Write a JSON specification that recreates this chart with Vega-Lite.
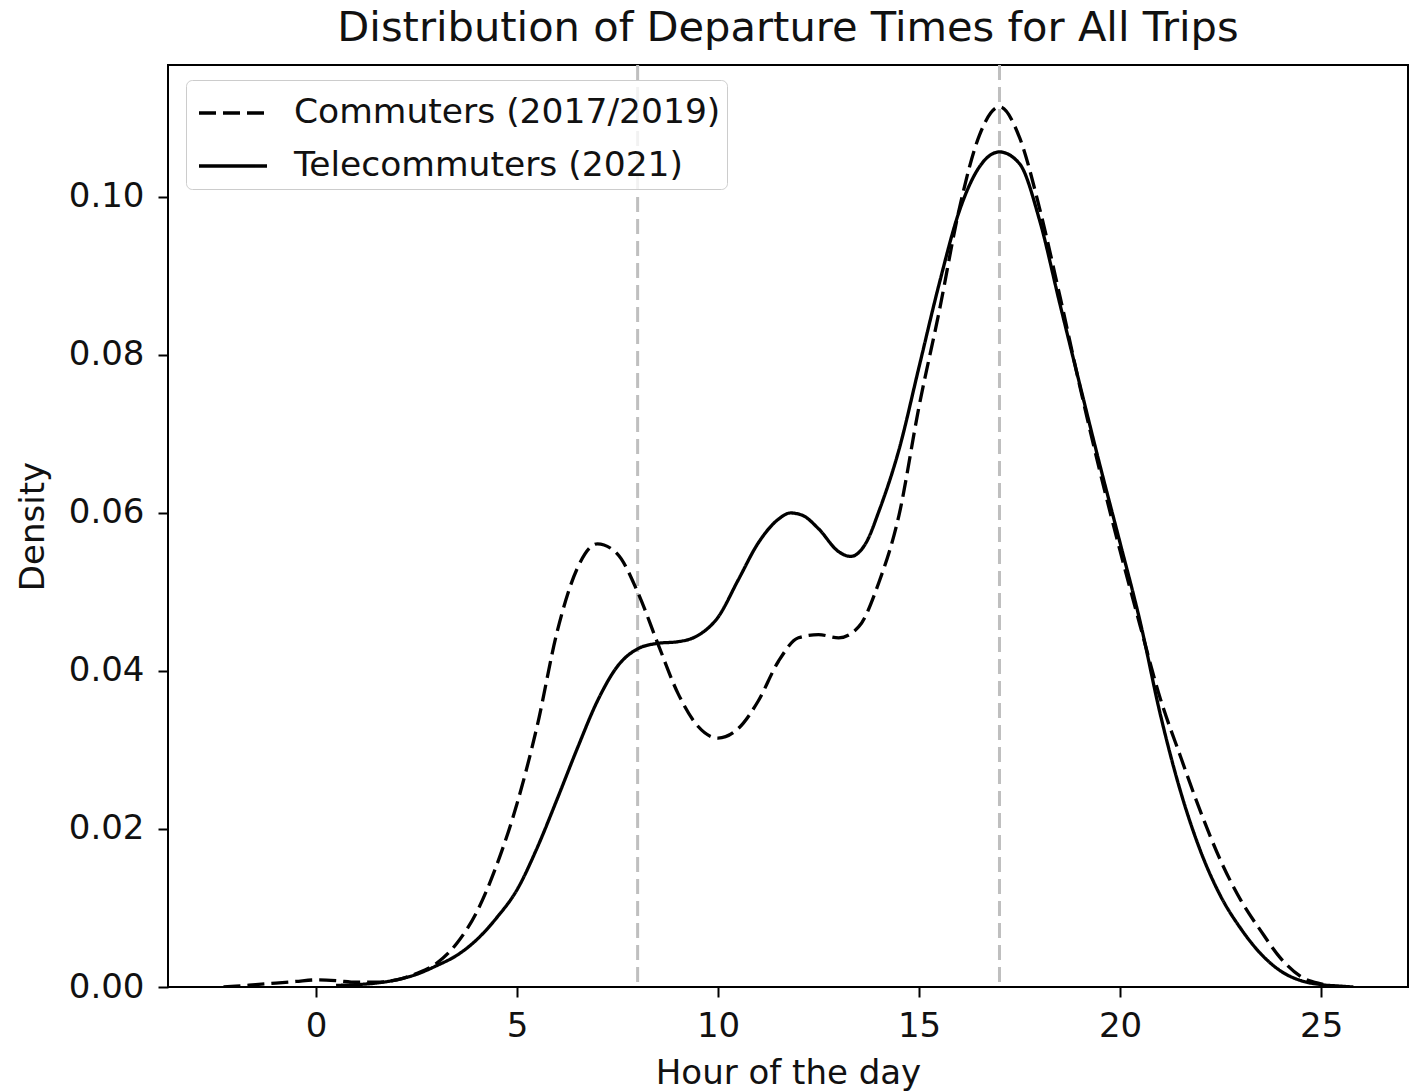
{
  "$schema": "https://vega.github.io/schema/vega-lite/v6.json",
  "width": 1240,
  "height": 922,
  "autosize": "none",
  "padding": {"left": 168, "top": 65, "right": 12, "bottom": 104},
  "background": "white",
  "config": {
    "font": "DejaVu Sans",
    "view": {"stroke": "black", "strokeWidth": 2},
    "axis": {"grid": false, "domain": false, "tickColor": "black", "tickWidth": 2, "tickSize": 10, "labelFont": "DejaVu Sans", "labelFontSize": 34, "labelColor": "#111", "titleFont": "DejaVu Sans", "titleFontSize": 34, "titleFontWeight": "normal", "titleColor": "#111"}
  },
  "title": {"text": "Distribution of Departure Times for All Trips", "fontSize": 41.6, "fontWeight": "normal", "font": "DejaVu Sans", "color": "#111", "anchor": "middle", "offset": 14},
  "datasets": {
    "kde": [
      {"series": "Commuters (2017/2019)", "hour": -2.3, "density": 0.0},
      {"series": "Commuters (2017/2019)", "hour": -2.0, "density": 0.0001},
      {"series": "Commuters (2017/2019)", "hour": -1.5, "density": 0.0003},
      {"series": "Commuters (2017/2019)", "hour": -1.0, "density": 0.0005},
      {"series": "Commuters (2017/2019)", "hour": -0.5, "density": 0.0007},
      {"series": "Commuters (2017/2019)", "hour": 0.0, "density": 0.0009},
      {"series": "Commuters (2017/2019)", "hour": 0.5, "density": 0.0008},
      {"series": "Commuters (2017/2019)", "hour": 1.0, "density": 0.0006},
      {"series": "Commuters (2017/2019)", "hour": 1.5, "density": 0.0006},
      {"series": "Commuters (2017/2019)", "hour": 2.0, "density": 0.0009},
      {"series": "Commuters (2017/2019)", "hour": 2.5, "density": 0.0017},
      {"series": "Commuters (2017/2019)", "hour": 3.0, "density": 0.0030},
      {"series": "Commuters (2017/2019)", "hour": 3.5, "density": 0.0055},
      {"series": "Commuters (2017/2019)", "hour": 4.0, "density": 0.0095},
      {"series": "Commuters (2017/2019)", "hour": 4.5, "density": 0.0155},
      {"series": "Commuters (2017/2019)", "hour": 5.0, "density": 0.0232},
      {"series": "Commuters (2017/2019)", "hour": 5.5, "density": 0.0330},
      {"series": "Commuters (2017/2019)", "hour": 6.0, "density": 0.0450},
      {"series": "Commuters (2017/2019)", "hour": 6.5, "density": 0.0530},
      {"series": "Commuters (2017/2019)", "hour": 7.0, "density": 0.0561},
      {"series": "Commuters (2017/2019)", "hour": 7.5, "density": 0.0548},
      {"series": "Commuters (2017/2019)", "hour": 8.0, "density": 0.0500},
      {"series": "Commuters (2017/2019)", "hour": 8.5, "density": 0.0435},
      {"series": "Commuters (2017/2019)", "hour": 9.0, "density": 0.0372},
      {"series": "Commuters (2017/2019)", "hour": 9.5, "density": 0.0330},
      {"series": "Commuters (2017/2019)", "hour": 10.0, "density": 0.0315},
      {"series": "Commuters (2017/2019)", "hour": 10.5, "density": 0.0327},
      {"series": "Commuters (2017/2019)", "hour": 11.0, "density": 0.0362},
      {"series": "Commuters (2017/2019)", "hour": 11.5, "density": 0.0412},
      {"series": "Commuters (2017/2019)", "hour": 12.0, "density": 0.0442},
      {"series": "Commuters (2017/2019)", "hour": 12.5, "density": 0.0446},
      {"series": "Commuters (2017/2019)", "hour": 13.0, "density": 0.0442},
      {"series": "Commuters (2017/2019)", "hour": 13.5, "density": 0.0456},
      {"series": "Commuters (2017/2019)", "hour": 14.0, "density": 0.0512},
      {"series": "Commuters (2017/2019)", "hour": 14.5, "density": 0.0597},
      {"series": "Commuters (2017/2019)", "hour": 15.0, "density": 0.0735},
      {"series": "Commuters (2017/2019)", "hour": 15.5, "density": 0.0855},
      {"series": "Commuters (2017/2019)", "hour": 16.0, "density": 0.0985},
      {"series": "Commuters (2017/2019)", "hour": 16.5, "density": 0.1078},
      {"series": "Commuters (2017/2019)", "hour": 17.0, "density": 0.1114},
      {"series": "Commuters (2017/2019)", "hour": 17.5, "density": 0.1075},
      {"series": "Commuters (2017/2019)", "hour": 18.0, "density": 0.0985},
      {"series": "Commuters (2017/2019)", "hour": 18.5, "density": 0.0875},
      {"series": "Commuters (2017/2019)", "hour": 19.0, "density": 0.0760},
      {"series": "Commuters (2017/2019)", "hour": 19.5, "density": 0.0652},
      {"series": "Commuters (2017/2019)", "hour": 20.0, "density": 0.0552},
      {"series": "Commuters (2017/2019)", "hour": 20.5, "density": 0.0457},
      {"series": "Commuters (2017/2019)", "hour": 21.0, "density": 0.0365},
      {"series": "Commuters (2017/2019)", "hour": 21.5, "density": 0.0292},
      {"series": "Commuters (2017/2019)", "hour": 22.0, "density": 0.0222},
      {"series": "Commuters (2017/2019)", "hour": 22.5, "density": 0.0160},
      {"series": "Commuters (2017/2019)", "hour": 23.0, "density": 0.0110},
      {"series": "Commuters (2017/2019)", "hour": 23.5, "density": 0.0071},
      {"series": "Commuters (2017/2019)", "hour": 24.0, "density": 0.0036},
      {"series": "Commuters (2017/2019)", "hour": 24.5, "density": 0.0013},
      {"series": "Commuters (2017/2019)", "hour": 25.0, "density": 0.0004},
      {"series": "Commuters (2017/2019)", "hour": 25.5, "density": 0.0},
      {"series": "Telecommuters (2021)", "hour": 0.5, "density": 0.0002},
      {"series": "Telecommuters (2021)", "hour": 1.0, "density": 0.0003},
      {"series": "Telecommuters (2021)", "hour": 1.5, "density": 0.0005},
      {"series": "Telecommuters (2021)", "hour": 2.0, "density": 0.0009},
      {"series": "Telecommuters (2021)", "hour": 2.5, "density": 0.0016},
      {"series": "Telecommuters (2021)", "hour": 3.0, "density": 0.0027},
      {"series": "Telecommuters (2021)", "hour": 3.5, "density": 0.0040},
      {"series": "Telecommuters (2021)", "hour": 4.0, "density": 0.0060},
      {"series": "Telecommuters (2021)", "hour": 4.5, "density": 0.0088},
      {"series": "Telecommuters (2021)", "hour": 5.0, "density": 0.0123},
      {"series": "Telecommuters (2021)", "hour": 5.5, "density": 0.0176},
      {"series": "Telecommuters (2021)", "hour": 6.0, "density": 0.0238},
      {"series": "Telecommuters (2021)", "hour": 6.5, "density": 0.0302},
      {"series": "Telecommuters (2021)", "hour": 7.0, "density": 0.0362},
      {"series": "Telecommuters (2021)", "hour": 7.5, "density": 0.0406},
      {"series": "Telecommuters (2021)", "hour": 8.0, "density": 0.0428},
      {"series": "Telecommuters (2021)", "hour": 8.5, "density": 0.0435},
      {"series": "Telecommuters (2021)", "hour": 9.0, "density": 0.0437},
      {"series": "Telecommuters (2021)", "hour": 9.5, "density": 0.0445},
      {"series": "Telecommuters (2021)", "hour": 10.0, "density": 0.0468},
      {"series": "Telecommuters (2021)", "hour": 10.5, "density": 0.0515},
      {"series": "Telecommuters (2021)", "hour": 11.0, "density": 0.0562},
      {"series": "Telecommuters (2021)", "hour": 11.5, "density": 0.0592},
      {"series": "Telecommuters (2021)", "hour": 11.8, "density": 0.0600},
      {"series": "Telecommuters (2021)", "hour": 12.1, "density": 0.0597},
      {"series": "Telecommuters (2021)", "hour": 12.5, "density": 0.0580},
      {"series": "Telecommuters (2021)", "hour": 13.0, "density": 0.0551},
      {"series": "Telecommuters (2021)", "hour": 13.3, "density": 0.0545},
      {"series": "Telecommuters (2021)", "hour": 13.7, "density": 0.0564},
      {"series": "Telecommuters (2021)", "hour": 14.0, "density": 0.0602},
      {"series": "Telecommuters (2021)", "hour": 14.5, "density": 0.0680},
      {"series": "Telecommuters (2021)", "hour": 15.0, "density": 0.0785},
      {"series": "Telecommuters (2021)", "hour": 15.5, "density": 0.0890},
      {"series": "Telecommuters (2021)", "hour": 16.0, "density": 0.0982},
      {"series": "Telecommuters (2021)", "hour": 16.5, "density": 0.1038},
      {"series": "Telecommuters (2021)", "hour": 17.0, "density": 0.1057},
      {"series": "Telecommuters (2021)", "hour": 17.5, "density": 0.1042},
      {"series": "Telecommuters (2021)", "hour": 18.0, "density": 0.0970},
      {"series": "Telecommuters (2021)", "hour": 18.5, "density": 0.0865},
      {"series": "Telecommuters (2021)", "hour": 19.0, "density": 0.0762},
      {"series": "Telecommuters (2021)", "hour": 19.5, "density": 0.0660},
      {"series": "Telecommuters (2021)", "hour": 20.0, "density": 0.0562},
      {"series": "Telecommuters (2021)", "hour": 20.5, "density": 0.0462},
      {"series": "Telecommuters (2021)", "hour": 21.0, "density": 0.0345},
      {"series": "Telecommuters (2021)", "hour": 21.5, "density": 0.0248},
      {"series": "Telecommuters (2021)", "hour": 22.0, "density": 0.0172},
      {"series": "Telecommuters (2021)", "hour": 22.5, "density": 0.0115},
      {"series": "Telecommuters (2021)", "hour": 23.0, "density": 0.0074},
      {"series": "Telecommuters (2021)", "hour": 23.5, "density": 0.0042},
      {"series": "Telecommuters (2021)", "hour": 24.0, "density": 0.0020},
      {"series": "Telecommuters (2021)", "hour": 24.5, "density": 0.0008},
      {"series": "Telecommuters (2021)", "hour": 25.0, "density": 0.0003},
      {"series": "Telecommuters (2021)", "hour": 25.5, "density": 0.0001},
      {"series": "Telecommuters (2021)", "hour": 25.8, "density": 0.0}
    ],
    "refs": [{"hour": 8}, {"hour": 17}]
  },
  "layer": [
    {
      "data": {"name": "refs"},
      "mark": {"type": "rule", "color": "#bfbfbf", "strokeWidth": 3, "strokeDash": [15, 7]},
      "encoding": {
        "x": {"field": "hour", "type": "quantitative", "scale": {"domain": [-3.68, 27.16], "nice": false, "zero": false}}
      }
    },
    {
      "data": {"name": "kde"},
      "mark": {"type": "line", "color": "black", "strokeWidth": 3.3, "interpolate": "monotone", "clip": true},
      "encoding": {
        "x": {"field": "hour", "type": "quantitative", "title": "Hour of the day",
              "scale": {"domain": [-3.68, 27.16], "nice": false, "zero": false},
              "axis": {"values": [0, 5, 10, 15, 20, 25], "labelPadding": 12, "titlePadding": 13}},
        "y": {"field": "density", "type": "quantitative", "title": "Density",
              "scale": {"domain": [0, 0.1167], "nice": false},
              "axis": {"values": [0, 0.02, 0.04, 0.06, 0.08, 0.1], "format": ".2f", "labelPadding": 14, "titlePadding": 18}},
        "detail": {"field": "series"},
        "strokeDash": {"field": "series", "type": "nominal",
              "scale": {"domain": ["Commuters (2017/2019)", "Telecommuters (2021)"], "range": [[17, 7], [1, 0]]},
              "legend": {"title": null, "orient": "none", "legendX": 18, "legendY": 15,
                         "symbolType": "M-1.36,0H1.36", "symbolSize": 2500, "symbolStrokeWidth": 3.3, "symbolStrokeColor": "black",
                         "symbolOffset": 14, "labelFontSize": 34.5, "labelFont": "DejaVu Sans", "labelColor": "#111", "labelOffset": 34, "labelLimit": 1000,
                         "fillColor": "rgba(255,255,255,0.8)", "strokeColor": "#cccccc", "cornerRadius": 6,
                         "padding": 6, "rowPadding": 9}}
      }
    }
  ]
}
